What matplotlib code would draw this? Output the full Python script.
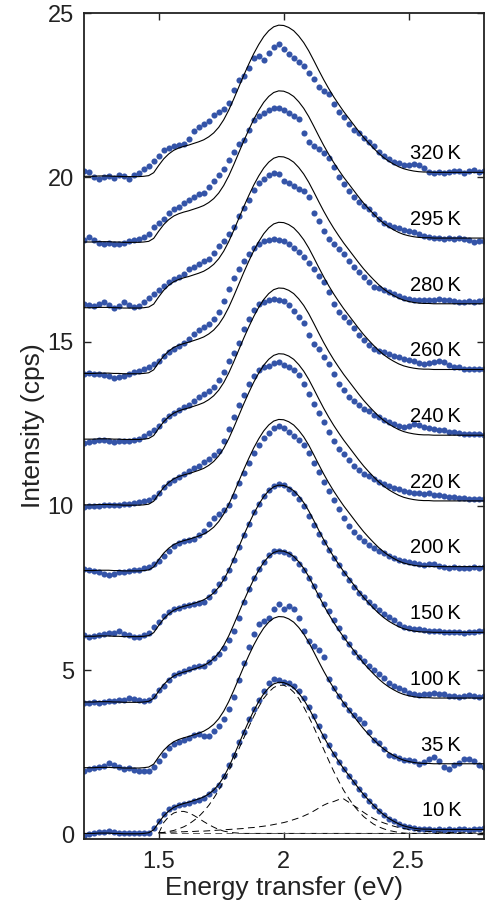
import numpy as np
import matplotlib.pyplot as plt

plt.rcParams['font.family'] = ['Liberation Sans', 'DejaVu Sans']

# energy grid of the measured points (eV)
energy = np.round(np.arange(1.20, 2.801, 0.02), 2)

temps = ['10\u2009K', '35\u2009K', '100\u2009K', '150\u2009K', '200\u2009K', '220\u2009K',
         '240\u2009K', '260\u2009K', '280\u2009K', '295\u2009K', '320\u2009K']
offsets = [0, 2, 4, 6, 8, 10, 12, 14, 16, 18, 20]

# intensity above each offset (cps)
d_10K = [-0.06, 0.02, 0.05, 0.06, 0.08, 0.10, 0.08, 0.05, 0.04, 0.05,
         0.03, 0.04, 0.03, 0.05, 0.18, 0.40, 0.62, 0.76, 0.84, 0.88,
         0.92, 0.96, 1.02, 1.06, 1.12, 1.22, 1.36, 1.50, 1.78, 2.10,
         2.42, 2.80, 3.12, 3.50, 3.82, 4.10, 4.36, 4.60, 4.72, 4.70,
         4.65, 4.62, 4.52, 4.36, 4.14, 3.88, 3.60, 3.30, 3.00, 2.72,
         2.44, 2.20, 1.98, 1.78, 1.58, 1.38, 1.20, 1.02, 0.86, 0.72,
         0.60, 0.48, 0.40, 0.32, 0.26, 0.22, 0.18, 0.16, 0.15, 0.16,
         0.14, 0.15, 0.14, 0.16, 0.14, 0.15, 0.16, 0.14, 0.16, 0.15,
         0.18]
d_35K = [-0.06, -0.02, 0.02, 0.05, 0.08, 0.16, 0.12, 0.04, 0.00, 0.03,
         -0.04, -0.06, -0.08, -0.06, 0.06, 0.22, 0.42, 0.62, 0.74, 0.82,
         0.87, 0.94, 1.02, 1.06, 1.00, 0.98, 1.16, 1.30, 1.52, 1.82,
         2.18, 2.70, 3.22, 3.70, 4.10, 4.40, 4.50, 4.60, 4.86, 5.02,
         4.85, 4.94, 4.86, 4.60, 4.18, 3.90, 3.74, 3.62, 3.40, 2.72,
         2.46, 2.22, 1.98, 1.80, 1.62, 1.50, 1.38, 1.12, 0.88, 0.78,
         0.60, 0.42, 0.38, 0.32, 0.26, 0.26, 0.22, 0.14, 0.20, 0.30,
         0.36, 0.22, 0.06, 0.00, 0.10, 0.18, 0.28, 0.30, 0.22, 0.12,
         0.06]
d_100K = [0.00, 0.00, 0.02, 0.00, 0.02, 0.05, 0.06, 0.10, 0.08, 0.14,
          0.12, 0.08, 0.06, 0.10, 0.22, 0.38, 0.52, 0.70, 0.84, 0.92,
          0.98, 1.04, 1.08, 1.12, 1.14, 1.26, 1.36, 1.48, 1.66, 1.92,
          2.20, 2.60, 3.08, 3.46, 3.80, 4.08, 4.30, 4.50, 4.62, 4.64,
          4.60, 4.54, 4.42, 4.24, 4.04, 3.80, 3.56, 3.28, 3.02, 2.80,
          2.52, 2.28, 2.02, 1.78, 1.56, 1.40, 1.28, 1.14, 1.00, 0.88,
          0.76, 0.62, 0.52, 0.46, 0.40, 0.30, 0.26, 0.24, 0.26, 0.28,
          0.30, 0.28, 0.26, 0.22, 0.20, 0.18, 0.22, 0.24, 0.20, 0.18,
          0.20]
d_150K = [0.06, 0.02, 0.04, 0.08, 0.10, 0.12, 0.14, 0.18, 0.10, 0.06,
          0.00, 0.02, 0.06, 0.14, 0.30, 0.46, 0.66, 0.76, 0.86, 0.90,
          0.94, 0.98, 1.02, 1.04, 1.08, 1.24, 1.42, 1.62, 1.80, 2.04,
          2.36, 2.74, 3.10, 3.46, 3.80, 4.06, 4.30, 4.48, 4.60, 4.66,
          4.62, 4.52, 4.40, 4.22, 3.98, 3.70, 3.42, 3.14, 2.90, 2.66,
          2.42, 2.20, 1.96, 1.74, 1.52, 1.36, 1.22, 1.06, 0.94, 0.84,
          0.72, 0.62, 0.52, 0.40, 0.32, 0.28, 0.26, 0.24, 0.22, 0.20,
          0.20, 0.18, 0.16, 0.16, 0.15, 0.16, 0.14, 0.15, 0.16, 0.18,
          0.20]
d_200K = [0.08, 0.04, 0.02, 0.00, -0.06, -0.10, -0.08, -0.02, 0.00, 0.02,
          0.04, 0.06, 0.10, 0.14, 0.22, 0.32, 0.48, 0.64, 0.78, 0.88,
          0.92, 0.96, 1.00, 1.10, 1.24, 1.44, 1.62, 1.76, 1.88, 2.04,
          2.30, 2.68, 3.00, 3.30, 3.60, 3.86, 4.06, 4.22, 4.36, 4.42,
          4.36, 4.26, 4.14, 4.00, 3.84, 3.60, 3.30, 3.02, 2.74, 2.46,
          2.18, 1.90, 1.62, 1.40, 1.20, 1.04, 0.92, 0.82, 0.72, 0.64,
          0.56, 0.48, 0.42, 0.36, 0.32, 0.30, 0.26, 0.22, 0.20, 0.24,
          0.22, 0.18, 0.14, 0.12, 0.14, 0.12, 0.10, 0.12, 0.14, 0.12,
          0.14]
d_220K = [-0.04, -0.02, 0.00, 0.00, 0.02, 0.02, 0.04, 0.02, 0.06, 0.06,
          0.10, 0.12, 0.14, 0.18, 0.28, 0.40, 0.56, 0.68, 0.78, 0.88,
          0.98, 1.06, 1.14, 1.22, 1.32, 1.44, 1.54, 1.68, 1.96, 2.34,
          2.70, 3.06, 3.38, 3.70, 3.96, 4.12, 4.22, 4.26, 4.34, 4.38,
          4.30, 4.22, 4.14, 3.98, 3.72, 3.40, 3.10, 2.84, 2.54, 2.24,
          1.96, 1.74, 1.58, 1.38, 1.20, 1.08, 0.98, 0.90, 0.82, 0.74,
          0.66, 0.60, 0.54, 0.50, 0.46, 0.42, 0.40, 0.38, 0.36, 0.38,
          0.34, 0.32, 0.30, 0.28, 0.26, 0.24, 0.24, 0.22, 0.22, 0.20,
          0.20]
d_240K = [-0.10, -0.05, -0.02, 0.00, -0.01, -0.04, -0.06, -0.04, -0.02, -0.03,
          0.00, 0.04, 0.14, 0.22, 0.30, 0.44, 0.60, 0.74, 0.84, 0.92,
          1.00, 1.08, 1.18, 1.30, 1.40, 1.50, 1.62, 1.82, 2.08, 2.40,
          2.64, 2.96, 3.38, 3.70, 3.96, 4.14, 4.20, 4.28, 4.30, 4.26,
          4.22, 4.10, 3.92, 3.74, 3.55, 3.20, 2.92, 2.76, 2.54, 2.32,
          2.00, 1.72, 1.52, 1.32, 1.18, 1.06, 0.96, 0.88, 0.78, 0.70,
          0.62, 0.56, 0.50, 0.44, 0.40, 0.44, 0.50, 0.46, 0.40, 0.36,
          0.34, 0.30, 0.30, 0.26, 0.24, 0.22, 0.20, 0.18, 0.20, 0.18,
          0.16]
d_260K = [0.02, 0.04, 0.02, 0.00, -0.02, -0.06, -0.10, -0.09, -0.04, 0.02,
          0.06, 0.10, 0.17, 0.24, 0.32, 0.40, 0.57, 0.68, 0.78, 0.86,
          0.96, 1.08, 1.22, 1.34, 1.44, 1.54, 1.68, 1.90, 2.24, 2.60,
          2.92, 3.20, 3.46, 3.68, 3.86, 3.98, 4.06, 4.08, 4.12, 4.10,
          4.06, 3.96, 3.86, 3.72, 3.56, 3.40, 3.20, 3.00, 2.82, 2.50,
          2.14, 1.90, 1.76, 1.60, 1.40, 1.20, 1.04, 0.90, 0.78, 0.72,
          0.67, 0.62, 0.57, 0.52, 0.48, 0.45, 0.40, 0.36, 0.32, 0.34,
          0.38, 0.40, 0.38, 0.30, 0.24, 0.22, 0.18, 0.17, 0.18, 0.16,
          0.17]
d_280K = [0.14, 0.10, 0.09, 0.14, 0.19, 0.12, 0.02, 0.08, 0.19, 0.12,
          0.06, 0.08, 0.19, 0.32, 0.46, 0.58, 0.68, 0.80, 0.90, 0.98,
          1.05, 1.20, 1.28, 1.36, 1.46, 1.52, 1.70, 1.92, 2.07, 2.28,
          2.50, 2.82, 3.08, 3.30, 3.62, 3.84, 3.96, 4.06, 4.14, 4.10,
          3.89, 3.82, 3.74, 3.65, 3.59, 3.40, 2.92, 2.66, 2.36, 2.12,
          1.98, 1.82, 1.66, 1.46, 1.27, 1.12, 0.96, 0.82, 0.67, 0.62,
          0.56, 0.50, 0.44, 0.38, 0.34, 0.30, 0.27, 0.26, 0.25, 0.26,
          0.28, 0.29, 0.27, 0.25, 0.22, 0.20, 0.20, 0.22, 0.20, 0.22,
          0.26]
d_295K = [0.10, 0.17, 0.10, 0.00, -0.03, 0.00, -0.02, -0.04, 0.00, 0.06,
          0.10, 0.12, 0.17, 0.28, 0.50, 0.62, 0.74, 0.90, 1.02, 1.10,
          1.22, 1.30, 1.40, 1.50, 1.52, 1.70, 1.90, 2.06, 2.26, 2.52,
          2.78, 3.00, 3.14, 3.44, 3.74, 3.86, 3.96, 4.06, 4.12, 4.10,
          4.04, 3.96, 3.88, 3.76, 3.34, 3.06, 2.94, 2.86, 2.75, 2.58,
          2.32, 2.02, 1.80, 1.58, 1.40, 1.24, 1.14, 1.04, 0.88, 0.74,
          0.62, 0.55, 0.50, 0.45, 0.40, 0.36, 0.32, 0.28, 0.22, 0.18,
          0.16, 0.14, 0.12, 0.14, 0.12, 0.14, 0.12, 0.08, 0.02, 0.06,
          0.07]
d_320K = [0.19, 0.16, 0.02, -0.06, 0.02, 0.04, -0.02, 0.08, 0.04, -0.04,
          0.06, 0.12, 0.24, 0.34, 0.50, 0.66, 0.82, 0.90, 0.94, 0.98,
          1.00, 1.16, 1.42, 1.54, 1.62, 1.72, 1.90, 2.00, 2.08, 2.26,
          2.66, 2.96, 3.08, 3.32, 3.62, 3.68, 3.56, 3.78, 3.96, 4.06,
          3.90, 3.76, 3.62, 3.50, 3.38, 3.18, 3.00, 2.76, 2.64, 2.52,
          2.24, 2.00, 1.82, 1.62, 1.44, 1.34, 1.20, 1.08, 0.96, 0.78,
          0.64, 0.56, 0.48, 0.42, 0.38, 0.36, 0.40, 0.36, 0.28, 0.16,
          0.14, 0.16, 0.12, 0.16, 0.20, 0.18, 0.14, 0.20, 0.22, 0.16,
          0.18]
spectra = [d_10K, d_35K, d_100K, d_150K, d_200K, d_220K,
           d_240K, d_260K, d_280K, d_295K, d_320K]

# fitted curve of the 10 K spectrum, same for all temperatures
fit = [0.03, 0.03, 0.03, 0.04, 0.04, 0.04, 0.03, 0.03, 0.02, 0.02,
       0.02, 0.02, 0.03, 0.05, 0.14, 0.36, 0.56, 0.71, 0.82, 0.89,
       0.94, 0.98, 1.03, 1.08, 1.14, 1.23, 1.35, 1.52, 1.75, 2.04,
       2.38, 2.74, 3.10, 3.44, 3.76, 4.04, 4.28, 4.46, 4.58, 4.63,
       4.62, 4.56, 4.46, 4.30, 4.10, 3.85, 3.56, 3.26, 2.97, 2.70,
       2.45, 2.22, 2.00, 1.80, 1.60, 1.40, 1.21, 1.04, 0.88, 0.73,
       0.60, 0.49, 0.40, 0.32, 0.26, 0.22, 0.19, 0.17, 0.16, 0.16,
       0.15, 0.15, 0.15, 0.15, 0.15, 0.15, 0.15, 0.15, 0.15, 0.15,
       0.15]

# fit components of the 10 K spectrum, from 1.5 eV upward
comp_energy = energy[15:]
comp_shoulder = [0.03, 0.36, 0.54, 0.65, 0.70, 0.70, 0.66, 0.58, 0.49, 0.39,
                 0.30, 0.22, 0.15, 0.10, 0.07, 0.05, 0.04] + [0.03] * 49
comp_main = [0.04, 0.06, 0.09, 0.12, 0.17, 0.23, 0.31, 0.42, 0.54, 0.70,
             0.88, 1.10, 1.34, 1.62, 1.92, 2.25, 2.59, 2.93, 3.27, 3.59,
             3.88, 4.14, 4.33, 4.47, 4.54, 4.54, 4.47, 4.33, 4.14, 3.88,
             3.59, 3.27, 2.93, 2.59, 2.25, 1.92, 1.62, 1.34, 1.10, 0.88,
             0.70, 0.54, 0.42, 0.31, 0.23, 0.17, 0.12, 0.09, 0.06, 0.04] + [0.03] * 16
comp_high = [0.05, 0.06, 0.07, 0.07, 0.08, 0.08, 0.09, 0.09, 0.10, 0.10,
             0.11, 0.12, 0.13, 0.14, 0.15, 0.16, 0.17, 0.18, 0.20, 0.21,
             0.23, 0.25, 0.27, 0.30, 0.33, 0.36, 0.40, 0.45, 0.50, 0.56,
             0.63, 0.71, 0.80, 0.89, 0.96, 1.00, 1.06, 1.08, 0.98, 0.88,
             0.78, 0.67, 0.57, 0.48, 0.41, 0.35, 0.30, 0.25, 0.21, 0.18,
             0.15, 0.13, 0.11, 0.10, 0.09, 0.08, 0.07, 0.06, 0.06, 0.05,
             0.05, 0.05, 0.04, 0.04, 0.04, 0.04]
comp_base = [0.03] * 66

blue = '#3454a8'

fig = plt.figure(figsize=(4.86, 9.10), dpi=100)
ax = fig.add_axes([83.7 / 486, 1 - 839 / 910, 400 / 486, 826 / 910])

for off, vals, lab in zip(offsets, spectra, temps):
    ax.plot(energy, np.array(vals) + off, 'o', color=blue, ms=4.4, mew=0, zorder=2)
    ax.plot(energy, np.array(fit) + off, color='black', lw=0.8, zorder=3)
    ax.text(2.71, off + 0.72, lab, ha='right', va='center', fontsize=14.5)

dash = (0, (7, 4.5))
for comp in [comp_shoulder, comp_main, comp_high]:
    ax.plot(comp_energy, comp, color='black', lw=0.7, linestyle=dash, zorder=3)
ax.plot(comp_energy, comp_base, color='0.35', lw=0.7, linestyle=dash, zorder=3)

ax.set_xlim(1.2, 2.8)
ax.set_ylim(-0.14, 25.0)
ax.set_xticks([1.5, 2, 2.5])
ax.set_xticklabels(['1.5', '2', '2.5'])
ax.set_yticks([0, 5, 10, 15, 20, 25])
ax.tick_params(direction='in', length=5, width=1.0, top=True, right=True,
               labelsize=17, colors='#222222')
ax.tick_params(axis='x', pad=9)
ax.tick_params(axis='y', pad=7)
for s in ax.spines.values():
    s.set_linewidth(1.3)
    s.set_color('#222222')

ax.set_xlabel('Energy transfer (eV)', fontsize=19, labelpad=2, color='#222222')
ax.set_ylabel('Intensity (cps)', fontsize=19, labelpad=2, color='#222222')

fig.savefig('out.png', dpi=100)
